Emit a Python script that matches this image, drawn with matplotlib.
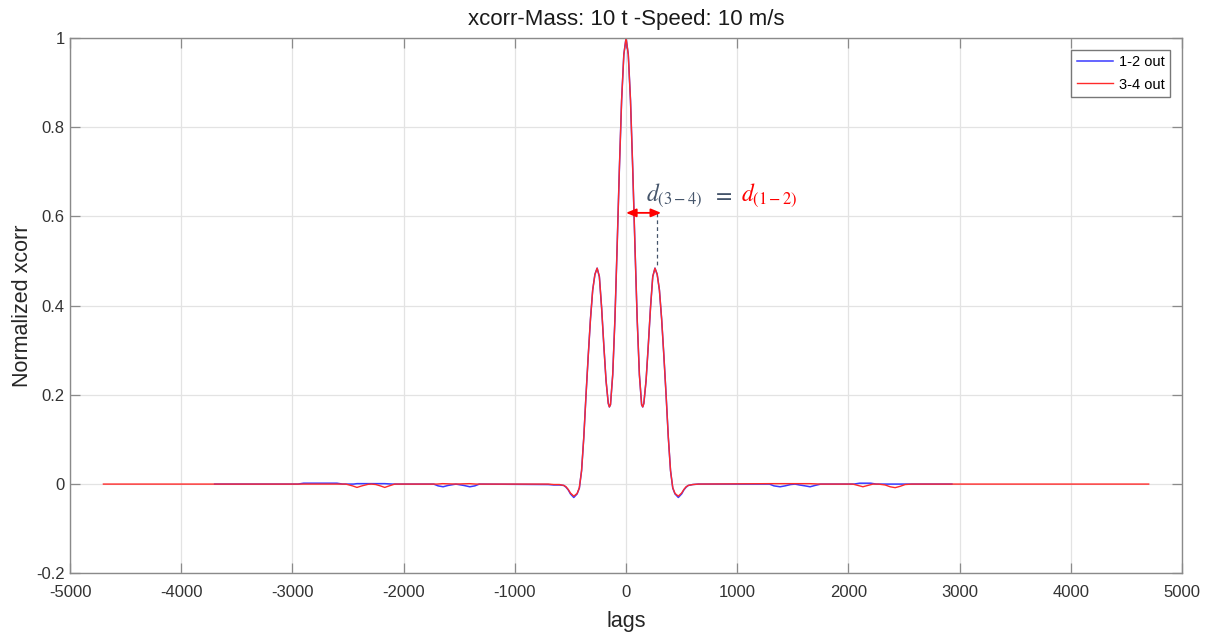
import matplotlib
matplotlib.use("Agg")
import matplotlib.pyplot as plt
from matplotlib.ticker import FuncFormatter

plt.rcParams['font.family'] = ['Liberation Sans', 'DejaVu Sans']
plt.rcParams['mathtext.fontset'] = 'stix'

# ---- data ----
core_lags = [-400, -380, -360, -340, -320, -300, -280, -260, -240, -220, -200, -180,
             -160, -150, -140, -120, -100, -80, -60, -40, -20, 0,
             20, 40, 60, 80, 100, 120, 140, 150, 160, 180, 200, 220, 240, 260,
             280, 300, 320, 340, 360, 380, 400]
core_vals = [0.030, 0.105, 0.200, 0.288, 0.370, 0.435, 0.470, 0.484, 0.465, 0.396, 0.311, 0.232,
             0.181, 0.173, 0.178, 0.245, 0.370, 0.534, 0.707, 0.860, 0.963, 1.000,
             0.963, 0.860, 0.707, 0.534, 0.370, 0.245, 0.178, 0.173, 0.181, 0.232, 0.311, 0.396, 0.465, 0.484,
             0.470, 0.435, 0.370, 0.288, 0.200, 0.105, 0.030]

red_left_lags = [-4700, -2520, -2460, -2420, -2375, -2320, -2290, -2250, -2210, -2170, -2130, -2080,
                 -1700, -1650, -1530, -1410, -1350, -700, -650, -600, -560, -540, -520, -500,
                 -470, -440, -420]
red_left_vals = [0.0, 0.0, -0.004, -0.0075, -0.004, -0.0005, 0.0, -0.001, -0.004, -0.0075, -0.004, 0.0,
                 0.0, 0.001, 0.0, 0.001, 0.0, 0.0, -0.001, -0.001, -0.003, -0.006, -0.012, -0.020,
                 -0.027, -0.021, -0.008]
red_right_lags = [420, 440, 470, 500, 520, 540, 560, 600, 650, 1300, 1400, 1650, 1750,
                  2040, 2085, 2130, 2175, 2220, 2270, 2330, 2375, 2420, 2465, 2510, 2570, 4700]
red_right_vals = [-0.008, -0.021, -0.027, -0.020, -0.012, -0.006, -0.003, -0.001, 0.0, 0.001, 0.001, 0.001, 0.0,
                  0.0, -0.003, -0.006, -0.003, 0.0, 0.0, -0.002, -0.006, -0.008, -0.005, -0.001, 0.0, 0.0]

blue_left_lags = [-3700, -2950, -2900, -2600, -2550, -2450, -2420, -2170, -2100,
                  -1730, -1690, -1645, -1600, -1530, -1460, -1405, -1360, -1320,
                  -700, -650, -600, -560, -540, -520, -500, -470, -440, -420]
blue_left_vals = [0.0, 0.0, 0.002, 0.002, 0.0, 0.0, 0.001, 0.001, 0.0,
                  0.0, -0.004, -0.006, -0.003, 0.0, -0.003, -0.006, -0.004, 0.0,
                  -0.001, -0.002, -0.002, -0.003, -0.007, -0.013, -0.022, -0.030, -0.022, -0.009]
blue_right_lags = [420, 440, 470, 500, 520, 540, 560, 600, 650, 1290, 1330, 1385, 1430, 1480, 1520,
                   1560, 1610, 1655, 1700, 1750, 2050, 2100, 2200, 2250, 2930]
blue_right_vals = [-0.009, -0.022, -0.030, -0.022, -0.013, -0.007, -0.003, -0.001, 0.0, 0.0, -0.004, -0.006,
                   -0.004, -0.001, 0.0, -0.002, -0.004, -0.006, -0.003, 0.0, 0.0, 0.002, 0.002, 0.0, 0.0]

x_ticks = [-5000, -4000, -3000, -2000, -1000, 0, 1000, 2000, 3000, 4000, 5000]
y_ticks = [-0.2, 0, 0.2, 0.4, 0.6, 0.8, 1.0]

title = 'xcorr-Mass: 10 t -Speed: 10 m/s'
legend_labels = ['1-2 out', '3-4 out']

red_lags = red_left_lags + core_lags + red_right_lags
red_vals = red_left_vals + core_vals + red_right_vals
blue_lags = blue_left_lags + core_lags + blue_right_lags
blue_vals = blue_left_vals + core_vals + blue_right_vals

# annotation data
arrow_y = 0.608
arrow_x0, arrow_x1 = 0, 315
peak_lag, peak_val = 281, 0.484

# ---- figure ----
fig = plt.figure(figsize=(12.1, 6.33), dpi=100)
ax = fig.add_axes([0.0579, 0.0943, 0.9190, 0.8457])

frame_col = '#8a8a8a'
text_col = '#333333'

ax.grid(True, color='#e3e3e3', linewidth=0.9)
ax.set_axisbelow(True)

ax.plot(blue_lags, blue_vals, color='#3a3aff', linewidth=1.1, label=legend_labels[0])
ax.plot(red_lags, red_vals, color='#ff2a2a', linewidth=1.0, label=legend_labels[1])

ax.set_xlim(-5000, 5000)
ax.set_ylim(-0.2, 1.0)
ax.set_xticks(x_ticks)
ax.set_yticks(y_ticks)

def fmt(v, pos):
    s = ('%.1f' % v).rstrip('0').rstrip('.')
    if s == '-0':
        s = '0'
    return s

ax.yaxis.set_major_formatter(FuncFormatter(fmt))
ax.xaxis.set_major_formatter(FuncFormatter(lambda v, p: '%d' % v))

for sp in ax.spines.values():
    sp.set_color(frame_col)
    sp.set_linewidth(1.0)
ax.tick_params(direction='in', length=7.5, width=0.9, color=frame_col,
               top=True, right=True, labelsize=12, labelcolor=text_col)
ax.tick_params(axis='x', pad=8.5)
ax.tick_params(axis='y', pad=4)

ax.set_title(title, fontsize=16, color='#1a1a1a', pad=9)
ax.set_xlabel('lags', fontsize=15.5, color='#262626', labelpad=8)
ax.set_ylabel('Normalized xcorr', fontsize=15.5, color='#262626', labelpad=2)

leg = ax.legend(loc='upper right', fontsize=10.5, frameon=True, fancybox=False,
                edgecolor='#777777', framealpha=1, borderaxespad=0.8,
                handlelength=2.5, handletextpad=0.4, borderpad=0.4, labelspacing=0.55)
leg.get_frame().set_linewidth(1.0)

# annotation: double arrow, dashed guide, formula
ax.annotate('', xy=(arrow_x1, arrow_y), xytext=(arrow_x0, arrow_y),
            arrowprops=dict(arrowstyle='<|-|>,head_length=0.6,head_width=0.25',
                            color='red', lw=1.3, shrinkA=0, shrinkB=0))
ax.plot([peak_lag, peak_lag], [arrow_y, peak_val], linestyle=(0, (3, 2.5)),
        color='#44546a', linewidth=0.9)

slate = '#44546a'
ax.text(180, 0.635, r'$d_{(3-4)}$', color=slate, fontsize=17, va='baseline', ha='left')
ax.text(775, 0.635, r'$=$', color=slate, fontsize=17, va='baseline', ha='left')
ax.text(1030, 0.635, r'$d_{(1-2)}$', color='red', fontsize=17, va='baseline', ha='left')

fig.savefig('out.png', dpi=100)
